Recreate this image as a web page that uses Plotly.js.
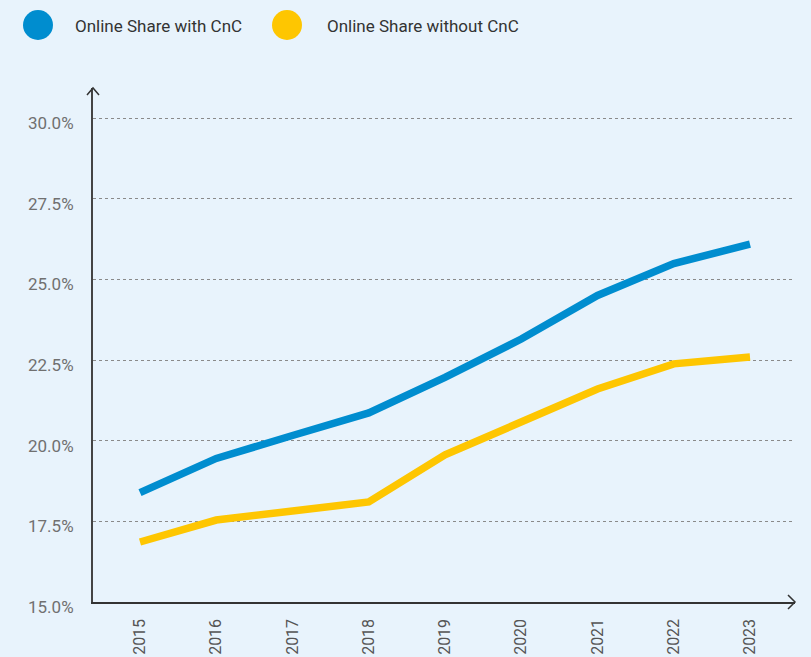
<!DOCTYPE html>
<html>
<head>
<meta charset="utf-8">
<script src="https://cdn.plot.ly/plotly-3.0.1.min.js"></script>
<style>
  html, body { margin: 0; padding: 0; background: #e8f3fc; }
  #chart { width: 811px; height: 657px; }
</style>
</head>
<body>
<div id="chart"></div>
<script>
// ---- data ----
const years = [2015, 2016, 2017, 2018, 2019, 2020, 2021, 2022, 2023];
const seriesNames = ["Online Share with CnC", "Online Share without CnC"];
const withCnC = [18.39, 19.45, 20.16, 20.86, 21.96, 23.15, 24.5, 25.49, 26.09];
const withoutCnC = [16.86, 17.54, 17.82, 18.10, 19.56, 20.58, 21.60, 22.38, 22.59];
const yTicks = [15, 17.5, 20, 22.5, 25, 27.5, 30];
const seriesColors = ["#008dcf", "#fec601"];

// ---- layout geometry ----
const W = 811, H = 657;
const M = { l: 93, r: 16, t: 88, b: 55 };
const plotW = W - M.l - M.r, plotH = H - M.t - M.b;
const px = x => (x - M.l) / plotW;          // pixel -> paper x
const py = y => (H - M.b - y) / plotH;      // pixel -> paper y

const traces = [withCnC, withoutCnC].map((vals, i) => ({
  type: "scatter",
  mode: "lines",
  x: years,
  y: vals,
  name: seriesNames[i],
  line: { color: seriesColors[i], width: 7.5 },
  showlegend: false,
  hoverinfo: "x+y"
}));

// manual legend (large circles)
const shapes = [];
const annotations = [];
const legendItems = [{ cx: 38, tx: 73 }, { cx: 287, tx: 325 }];
legendItems.forEach((it, i) => {
  shapes.push({
    type: "circle", xref: "paper", yref: "paper",
    x0: px(it.cx - 15), x1: px(it.cx + 15),
    y0: py(40), y1: py(10),
    fillcolor: seriesColors[i], line: { width: 0 }
  });
  annotations.push({
    xref: "paper", yref: "paper", x: px(it.tx), y: py(26),
    xanchor: "left", yanchor: "middle", showarrow: false,
    text: seriesNames[i],
    font: { family: "Roboto, sans-serif", size: 17, color: "#333" }
  });
});

// axis arrows (open chevrons)
shapes.push({
  type: "path", xref: "paper", yref: "paper",
  path: `M ${px(87)} ${py(95)} L ${px(93)} ${py(88)} L ${px(99)} ${py(95)}`,
  line: { color: "#333", width: 1.5 }
});
shapes.push({
  type: "path", xref: "paper", yref: "paper",
  path: `M ${px(788)} ${py(595)} L ${px(795)} ${py(602)} L ${px(788)} ${py(609)}`,
  line: { color: "#333", width: 1.5 }
});

const x0px = 140, x1px = 750;
const pxPerYear = (x1px - x0px) / (years[years.length - 1] - years[0]);
const xRange = [years[0] - (x0px - M.l) / pxPerYear, years[years.length - 1] + (W - M.r - x1px) / pxPerYear];
const pxPerPct = (602 - 118) / 15;
const yRange = [15, 15 + plotH / pxPerPct];

const layout = {
  width: W, height: H,
  margin: M,
  paper_bgcolor: "#e8f3fc",
  plot_bgcolor: "#e8f3fc",
  font: { family: "Roboto, sans-serif", color: "#666" },
  xaxis: {
    range: xRange,
    tickmode: "array",
    tickvals: years,
    ticktext: years.map(String),
    tickangle: -90,
    ticks: "",
    ticklabelstandoff: 9,
    showgrid: false,
    zeroline: false,
    showline: true,
    linecolor: "#333",
    linewidth: 1.5,
    tickfont: { size: 16, color: "#555" },
    fixedrange: true
  },
  yaxis: {
    range: yRange,
    tickmode: "array",
    tickvals: yTicks,
    ticktext: yTicks.map(v => v.toFixed(1) + "%"),
    ticks: "",
    ticklabelstandoff: 14,
    ticklabelshift: 5,
    showgrid: true,
    gridcolor: "#8a8a8a",
    griddash: "dot",
    gridwidth: 1,
    zeroline: false,
    showline: true,
    linecolor: "#444",
    linewidth: 2,
    tickfont: { size: 17, color: "#707070" },
    fixedrange: true
  },
  shapes: shapes,
  annotations: annotations,
  showlegend: false
};

Plotly.newPlot("chart", traces, layout, { displayModeBar: false, staticPlot: true });
</script>
</body>
</html>
